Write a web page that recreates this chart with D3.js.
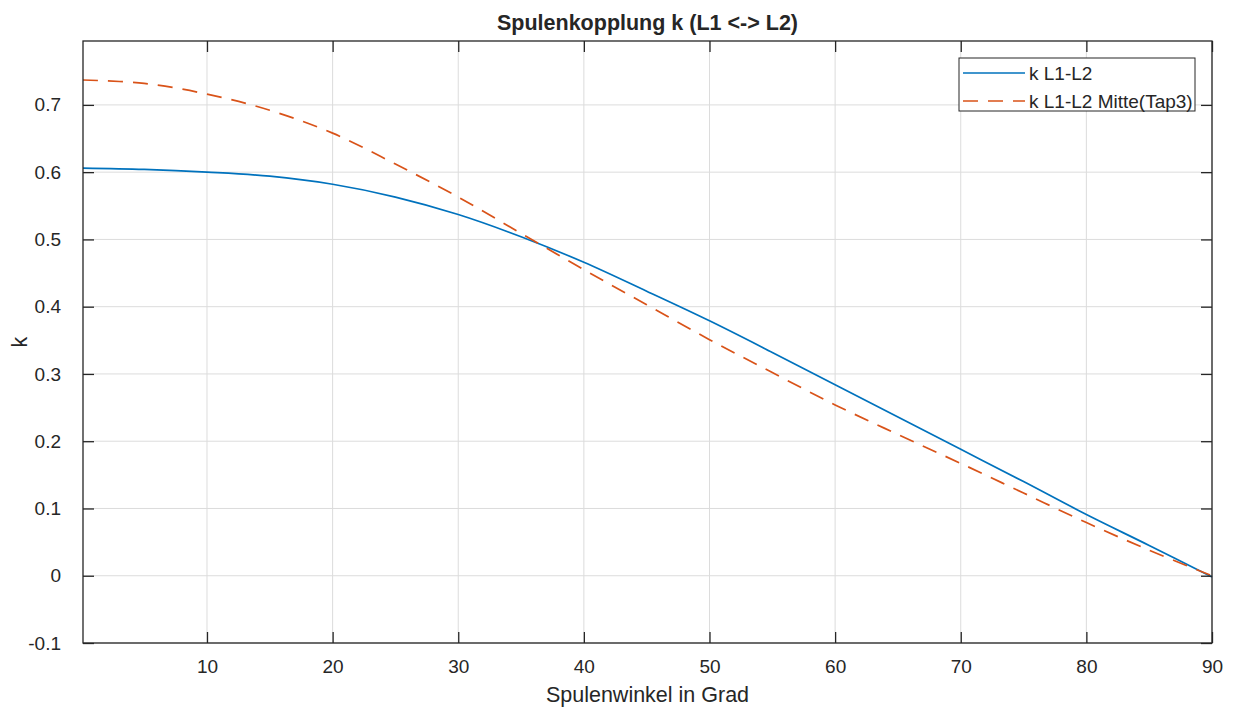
<!DOCTYPE html>
<html>
<head>
<meta charset="utf-8">
<script src="https://cdn.jsdelivr.net/npm/d3@7"></script>
<style>
  html, body { margin: 0; padding: 0; background: #fff; }
  svg { display: block; }
  text { font-family: "Liberation Sans", Arial, Helvetica, sans-serif; fill: #262626; }
</style>
</head>
<body>
<svg id="chart" width="1233" height="714"></svg>
<script>
// ---- data ----
const angles = [0.13, 5, 10, 15, 20, 25, 30, 35, 40, 45, 50, 55, 60, 65, 70, 75, 80, 85, 90];
const kL1L2 = [0.606, 0.604, 0.600, 0.594, 0.582, 0.563, 0.537, 0.504, 0.466, 0.423, 0.379, 0.332, 0.284, 0.236, 0.188, 0.140, 0.091, 0.045, -0.002];
const kL1L2Mitte = [0.737, 0.732, 0.716, 0.692, 0.658, 0.612, 0.563, 0.509, 0.455, 0.403, 0.351, 0.302, 0.254, 0.210, 0.167, 0.123, 0.079, 0.038, 0.000];
const xTicks = [10, 20, 30, 40, 50, 60, 70, 80, 90];
const yTicks = [-0.1, 0, 0.1, 0.2, 0.3, 0.4, 0.5, 0.6, 0.7];
const seriesNames = ["k L1-L2", "k L1-L2 Mitte(Tap3)"];
const titleText = "Spulenkopplung k (L1 <-> L2)";
const xLabelText = "Spulenwinkel in Grad";
const yLabelText = "k";

// ---- layout ----
const L = 83, R = 1212, T = 41, B = 643;
const svg = d3.select("#chart");
const x = d3.scaleLinear().domain([0.13, 90]).range([L, R]);
const y = d3.scaleLinear().domain([-0.1, 0.795]).range([B, T]);
const axisColor = "#262626";
const tickLen = 11;

// grid
const grid = svg.append("g");
grid.selectAll(".gx").data(xTicks).enter().append("line")
  .attr("x1", d => x(d)).attr("x2", d => x(d)).attr("y1", T).attr("y2", B)
  .attr("stroke", "#dcdcdc").attr("stroke-width", 1);
grid.selectAll(".gy").data(yTicks).enter().append("line")
  .attr("x1", L).attr("x2", R).attr("y1", d => y(d)).attr("y2", d => y(d))
  .attr("stroke", "#dcdcdc").attr("stroke-width", 1);

// lines
const line = d3.line().x(d => x(d[0])).y(d => y(d[1])).curve(d3.curveCatmullRom.alpha(0.5));
const plot = svg.append("g");
plot.append("path").datum(angles.map((a, i) => [a, kL1L2[i]]))
  .attr("d", line).attr("fill", "none").attr("stroke", "#0072BD").attr("stroke-width", 1.7);
plot.append("path").datum(angles.map((a, i) => [a, kL1L2Mitte[i]]))
  .attr("d", line).attr("fill", "none").attr("stroke", "#D95319").attr("stroke-width", 1.7)
  .attr("stroke-dasharray", "15,10");

// axes (box with inward ticks)
const fmtY = d => String(+d.toFixed(1));
const axB = svg.append("g").attr("transform", `translate(0,${B})`)
  .call(d3.axisBottom(x).tickValues(xTicks).tickSize(-tickLen).tickPadding(tickLen + 6).tickFormat(d => String(d)));
const axT = svg.append("g").attr("transform", `translate(0,${T})`)
  .call(d3.axisTop(x).tickValues(xTicks).tickSize(-tickLen).tickFormat(""));
const axL = svg.append("g").attr("transform", `translate(${L},0)`)
  .call(d3.axisLeft(y).tickValues(yTicks).tickSize(-tickLen).tickPadding(tickLen + 11).tickFormat(fmtY));
const axR = svg.append("g").attr("transform", `translate(${R},0)`)
  .call(d3.axisRight(y).tickValues(yTicks).tickSize(-tickLen).tickFormat(""));
[axB, axT, axL, axR].forEach(g => {
  g.selectAll(".domain").remove();
  g.selectAll(".tick line").attr("stroke", axisColor).attr("stroke-width", 1.3);
  g.selectAll(".tick text").attr("fill", axisColor).style("font-size", "19px")
    .style("font-family", "'Liberation Sans', Arial, sans-serif");
});
svg.append("rect").attr("x", L).attr("y", T).attr("width", R - L).attr("height", B - T)
  .attr("fill", "none").attr("stroke", axisColor).attr("stroke-width", 1.3);

// titles
svg.append("text").attr("x", (L + R) / 2).attr("y", 30).attr("text-anchor", "middle")
  .style("font-size", "21.5px").style("font-weight", "bold").text(titleText);
svg.append("text").attr("x", (L + R) / 2).attr("y", 702).attr("text-anchor", "middle")
  .style("font-size", "21.5px").text(xLabelText);
svg.append("text").attr("transform", `translate(27,${(T + B) / 2}) rotate(-90)`)
  .attr("text-anchor", "middle").style("font-size", "21.5px").text(yLabelText);

// legend
const lg = svg.append("g");
lg.append("rect").attr("x", 959).attr("y", 58).attr("width", 236).attr("height", 53)
  .attr("fill", "#fff").attr("stroke", axisColor).attr("stroke-width", 1);
const legendItems = [
  { name: seriesNames[0], color: "#0072BD", dash: null, yy: 73 },
  { name: seriesNames[1], color: "#D95319", dash: "15,10", yy: 101 }
];
legendItems.forEach(it => {
  lg.append("line").attr("x1", 963).attr("x2", 1025).attr("y1", it.yy).attr("y2", it.yy)
    .attr("stroke", it.color).attr("stroke-width", 1.7).attr("stroke-dasharray", it.dash);
  lg.append("text").attr("x", 1029).attr("y", it.yy).attr("dy", "0.35em")
    .style("font-size", "19px").text(it.name);
});
</script>
</body>
</html>
